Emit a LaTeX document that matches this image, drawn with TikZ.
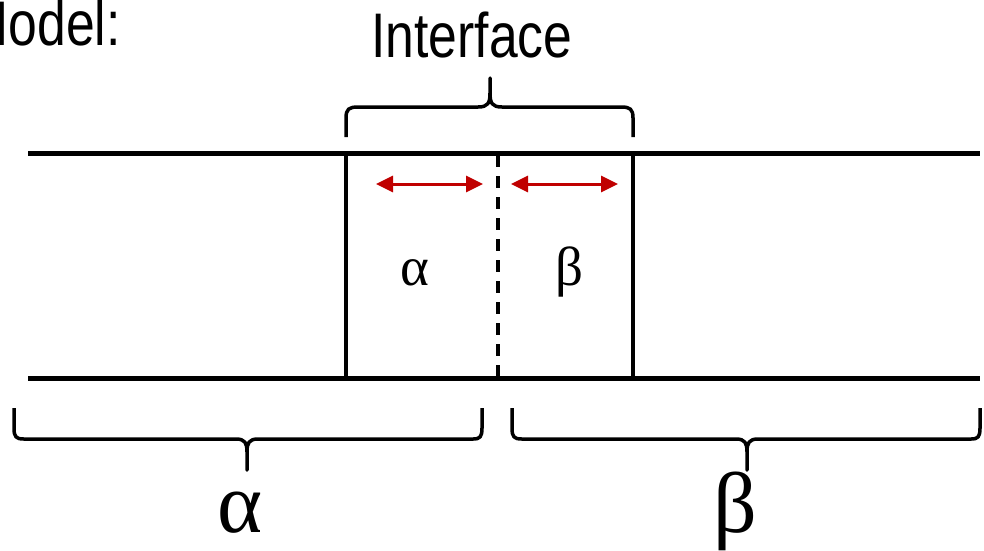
\documentclass[tikz,border=0pt]{standalone}
\usepackage{fontspec}
\setmainfont{Liberation Serif}
\newfontfamily\labelsans{Liberation Sans}
\usetikzlibrary{arrows.meta}
\definecolor{arrowred}{HTML}{C00000}
\tikzset{
  wall/.style={line width=5pt, line cap=butt},
  side/.style={line width=4.5pt},
  midline/.style={line width=3.5pt, dash pattern=on 12pt off 9pt},
  bracepath/.style={line width=3.5pt, line cap=butt, line join=round},
  redarrow/.style={arrowred, line width=3pt, {Triangle[length=17pt,width=16pt]}-{Triangle[length=17pt,width=16pt]}},
  sanstext/.style={inner sep=0pt, anchor=base, font=\labelsans\fontsize{63}{70}\selectfont, xscale=0.82},
  smallgreek/.style={inner sep=0pt, anchor=base, font=\fontsize{55}{60}\selectfont},
  biggreek/.style={inner sep=0pt, anchor=base, font=\fontsize{86}{90}\selectfont}
}
\begin{document}
\begin{tikzpicture}[x=1pt,y=-1pt]
\useasboundingbox (0,0) rectangle (984,550);
\clip (0,0) rectangle (984,550);
\fill[white] (0,0) rectangle (984,550);
% texts
\node[sanstext, anchor=base east] (model) at (121,45) {Model:};
\node[sanstext] (iface) at (472,57) {Interface};
\node[smallgreek] (sa) at (415,285) {α};
\node[smallgreek] (sb) at (569,285) {β};
\node[biggreek] (ba) at (240,532) {α};
\node[biggreek] (bb) at (735,532) {β};
% channel walls
\coordinate (tl) at (28,153);
\coordinate (tr) at (980,153);
\coordinate (bl) at (28,378);
\coordinate (br) at (980,378);
\draw[wall] (tl) -- (tr);
\draw[wall] (bl) -- (br);
% interface sides
\coordinate (l1) at (346,153);
\coordinate (l2) at (346,378);
\coordinate (r1) at (633,153);
\coordinate (r2) at (633,378);
\coordinate (m1) at (498,155);
\coordinate (m2) at (498,376);
\draw[side] (l1) -- (l2);
\draw[side] (r1) -- (r2);
\draw[midline] (m1) -- (m2);
% red arrows
\coordinate (a1) at (376,184);
\coordinate (a2) at (483,184);
\coordinate (b1) at (511,184);
\coordinate (b2) at (618,184);
\draw[redarrow] (a1) -- (a2);
\draw[redarrow] (b1) -- (b2);
% top brace
\draw[bracepath] (346,137) -- (346,118) .. controls (346,109) and (349,107) .. (358,107)
  -- (478,107) .. controls (488,107) and (490,103) .. (490,93) -- (490,78)
  -- (490,93) .. controls (490,103) and (492,107) .. (502,107)
  -- (621,107) .. controls (630,107) and (633,109) .. (633,118) -- (633,137);
% bottom left brace
\draw[bracepath] (14,408) -- (14,428) .. controls (14,437) and (16,439) .. (24,439)
  -- (236,439) .. controls (245,439) and (247,443) .. (247,452) -- (247,470)
  -- (247,452) .. controls (247,443) and (249,439) .. (258,439)
  -- (473,439) .. controls (480,439) and (482,437) .. (482,428) -- (482,408);
% bottom right brace
\draw[bracepath] (512,408) -- (512,428) .. controls (512,437) and (514,439) .. (522,439)
  -- (736,439) .. controls (745,439) and (747,443) .. (747,452) -- (747,470)
  -- (747,452) .. controls (747,443) and (749,439) .. (758,439)
  -- (971,439) .. controls (978,439) and (980,437) .. (980,428) -- (980,408);
\end{tikzpicture}
\end{document}
